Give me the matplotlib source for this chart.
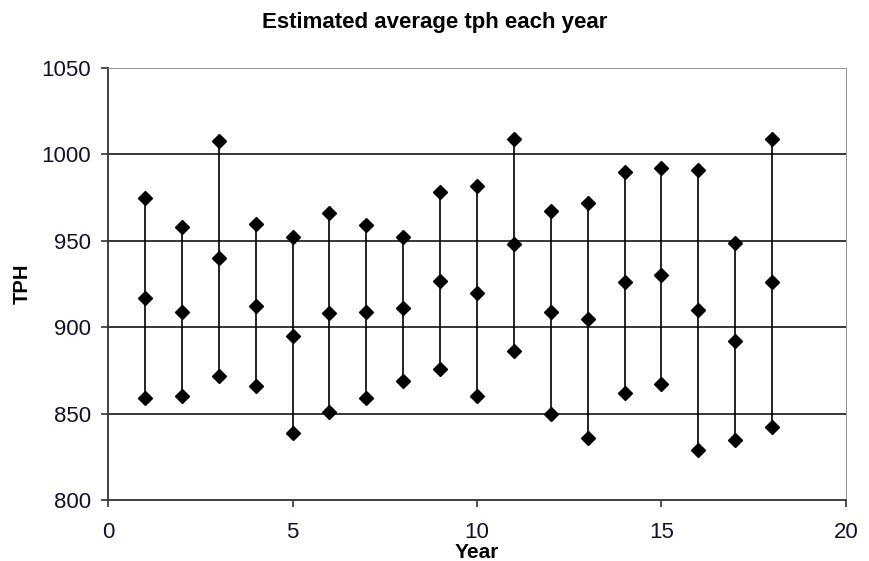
import matplotlib.pyplot as plt

plt.rcParams['font.family'] = ['Liberation Sans', 'DejaVu Sans']

years = [1, 2, 3, 4, 5, 6, 7, 8, 9, 10, 11, 12, 13, 14, 15, 16, 17, 18]
tph_high = [975, 958, 1008, 960, 952, 966, 959, 952, 978, 982, 1009, 967, 972, 990, 992, 991, 949, 1009]
tph_mean = [917, 909, 940, 912, 895, 908, 909, 911, 927, 920, 948, 909, 905, 926, 930, 910, 892, 926]
tph_low = [859, 860, 872, 866, 839, 851, 859, 869, 876, 860, 886, 850, 836, 862, 867, 829, 835, 842]

fig = plt.figure(figsize=(8.69, 5.61), dpi=100)
ax = fig.add_axes([0.1243, 0.1087, 0.8492, 0.7701])

# grid lines behind the data
for g in [850, 900, 950, 1000]:
    ax.axhline(g, color='black', lw=1.1, zorder=1)

ax.vlines(years, tph_low, tph_high, color='black', lw=1.2, zorder=2)
ax.plot(years, tph_high, 'D', color='black', ms=7.5, zorder=3)
ax.plot(years, tph_mean, 'D', color='black', ms=7.5, zorder=3)
ax.plot(years, tph_low, 'D', color='black', ms=7.5, zorder=3)

ax.set_xlim(0, 20)
ax.set_ylim(800, 1050)
ax.set_xticks([0, 5, 10, 15, 20])
ax.set_yticks([800, 850, 900, 950, 1000, 1050])

ax.spines['left'].set_color('#333333')
ax.spines['bottom'].set_color('#333333')
ax.spines['left'].set_linewidth(1.3)
ax.spines['bottom'].set_linewidth(1.3)
ax.spines['top'].set_color('#999999')
ax.spines['right'].set_color('#999999')
ax.tick_params(direction='out', length=5, width=1.2, colors='#333333',
               labelsize=16, labelcolor='#111128')
ax.tick_params(axis='x', pad=11)
ax.tick_params(axis='y', pad=7)

# title is centred on the whole figure, not the axes
fig.suptitle('Estimated average tph each year', fontsize=16, fontweight='bold',
             x=0.5, y=0.96, va='center')
ax.set_xlabel('Year', fontsize=15, fontweight='bold', labelpad=0)
ax.set_ylabel('TPH', fontsize=14.5, fontweight='bold', labelpad=7)

plt.savefig('out.png', dpi=100)
